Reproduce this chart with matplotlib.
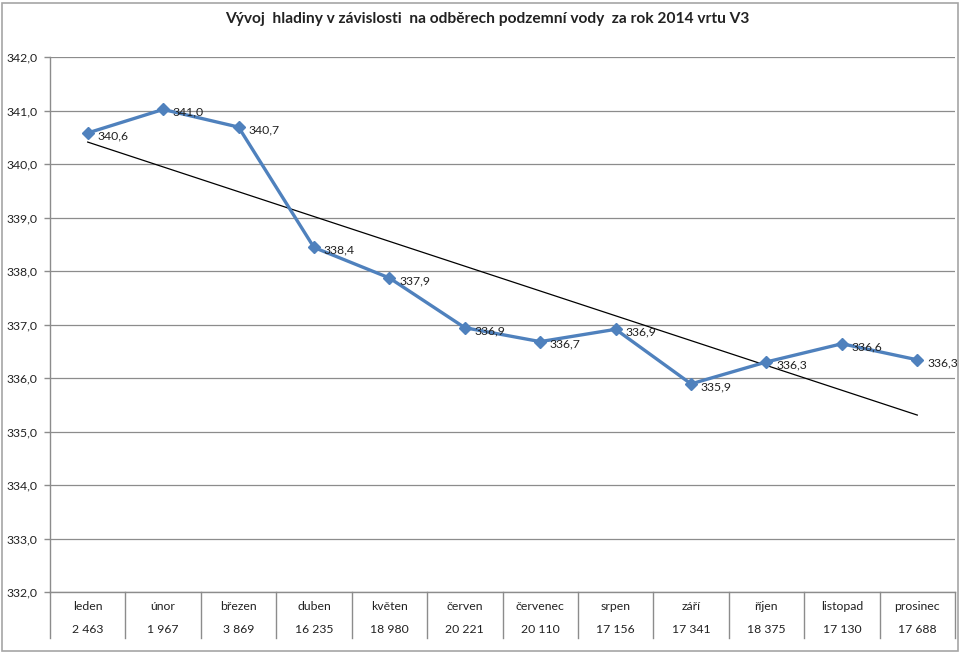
import matplotlib.pyplot as plt
import numpy as np
from matplotlib.patches import Rectangle

# months and measured water level (m n.m.)
mesice = ['leden', 'únor', 'březen', 'duben', 'květen', 'červen',
          'červenec', 'srpen', 'září', 'říjen', 'listopad', 'prosinec']
hladina = [340.58, 341.02, 340.69, 338.44, 337.87, 336.94,
           336.68, 336.91, 335.89, 336.30, 336.64, 336.34]
# monthly abstraction, shown in the table under the axis
odbery = ['2 463', '1 967', '3 869', '16 235', '18 980', '20 221',
          '20 110', '17 156', '17 341', '18 375', '17 130', '17 688']

plt.rcParams['font.family'] = ['Lato', 'DejaVu Sans']

fig = plt.figure(figsize=(9.6, 6.54), dpi=100)
ax = fig.add_axes([50 / 960, 1 - 592 / 654, 905 / 960, 535 / 654])

x = np.arange(len(mesice))
modra = '#4F81BD'
seda = '#8C8C8C'
txt = '#222222'

# measured line
ax.plot(x, hladina, color=modra, linewidth=2.4, marker='D', markersize=6.5,
        zorder=3)

# linear trend
k, q = np.polyfit(x, hladina, 1)
ax.plot(x, k * x + q, color='black', linewidth=0.9, zorder=2)

# data labels
for xi, yi in zip(x, hladina):
    ax.annotate(f'{yi:.1f}'.replace('.', ','), (xi, yi), xytext=(7, -2),
                textcoords='offset points', ha='left', va='center',
                fontsize=8.8, color=txt, zorder=4, annotation_clip=False)

ax.set_xlim(-0.5, 11.5)
ax.set_ylim(332, 342)
ax.set_yticks(np.arange(332, 342.1, 1))
ax.set_yticklabels([f'{v:.1f}'.replace('.', ',') for v in np.arange(332, 342.1, 1)])
ax.tick_params(axis='y', labelsize=8.8, colors=seda, labelcolor=txt,
               length=4, width=1, pad=5)
ax.set_xticks([])
ax.grid(axis='y', color=seda, linewidth=0.9)
ax.set_axisbelow(True)

for s in ['top', 'right']:
    ax.spines[s].set_visible(False)
for s in ['left', 'bottom']:
    ax.spines[s].set_color(seda)
    ax.spines[s].set_linewidth(1)

# data table under the plot
tr = ax.get_xaxis_transform()
for i in range(len(mesice)):
    ax.text(i, -0.028, mesice[i], transform=tr, ha='center', va='center',
            fontsize=8.8, color=txt)
    ax.text(i, -0.071, odbery[i], transform=tr, ha='center', va='center',
            fontsize=8.8, color=txt)
for b in np.arange(-0.5, 12, 1):
    ax.plot([b, b], [0, -0.086], transform=tr, color=seda, linewidth=1,
            clip_on=False)

fig.text(487 / 960, 1 - 19 / 654,
         'Vývoj  hladiny v závislosti  na odběrech podzemní vody  za rok 2014 vrtu V3',
         ha='center', va='center', fontsize=11.2, fontweight='bold', color=txt)

# outer chart frame
fig.patches.append(Rectangle((2 / 960, 3 / 654), 956 / 960, 648 / 654,
                             transform=fig.transFigure, fill=False,
                             edgecolor='#A6A6A6', linewidth=1.2))

fig.savefig('out.png', dpi=100)
